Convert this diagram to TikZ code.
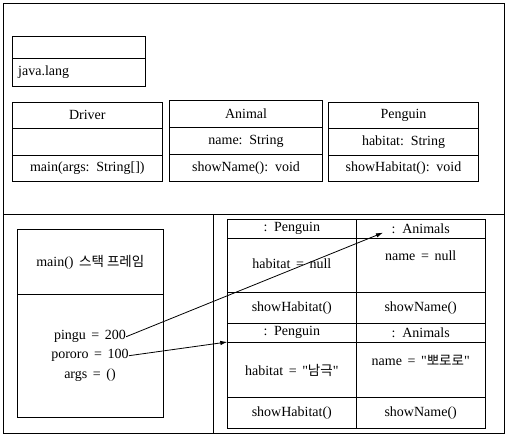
\documentclass[tikz,border=0pt]{standalone}
\usepackage{fontspec}
\setmainfont{Liberation Serif}[Ligatures=TeXOff, WordSpace=1.6]
\newfontfamily\kr{Noto Sans CJK KR}
\usetikzlibrary{arrows.meta}
\tikzset{
  box/.style={draw, line width=0.9pt, anchor=north west, inner sep=0pt, outer sep=0pt},
  lbl/.style={inner sep=0pt, font=\fontsize{14}{16}\selectfont},
  ptr/.style={line width=0.8pt, -{Latex[length=7pt,width=4.5pt]}},
  rule/.style={line width=0.9pt}
}
\newcommand{\krt}[1]{{\kr\fontsize{13.5}{16}\selectfont #1}}
\begin{document}
\begin{tikzpicture}[x=1pt,y=-1pt]
\useasboundingbox (0,0) rectangle (511,441);
% outer frame
\node[box, minimum width=500.7pt, minimum height=429.7pt] (outer) at (3.3,3.3) {};
\draw[rule] (3.3,214) -- (504,214);
\draw[rule] (213,214) -- (213,433);
% java.lang package
\node[box, minimum width=133pt, minimum height=50.3pt] (pkg) at (12.3,36) {};
\draw[rule] (12.3,58.7) -- (145.3,58.7);
\node[lbl, anchor=west] (pkgname) at (18,72) {java.lang};
% Driver class
\node[box, minimum width=150pt, minimum height=79pt] (drv) at (12.3,102.3) {};
\draw[rule] (12.3,128.3) -- (162.3,128.3);
\draw[rule] (12.3,155.3) -- (162.3,155.3);
\node[lbl] (drvname) at (87.3,115.3) {Driver};
\node[lbl] (drvop) at (87.3,168) {main(args: String[])};
% Animal class
\node[box, minimum width=152.6pt, minimum height=81pt] (ani) at (169.7,100.3) {};
\draw[rule] (169.7,127.3) -- (322.3,127.3);
\draw[rule] (169.7,154.7) -- (322.3,154.7);
\node[lbl] (aniname) at (246,113.8) {Animal};
\node[lbl] (aniattr) at (246,141) {name: String};
\node[lbl] (aniop) at (246,168) {showName(): void};
% Penguin class
\node[box, minimum width=149.6pt, minimum height=79pt] (pen) at (328.7,102.3) {};
\draw[rule] (328.7,128.3) -- (478.3,128.3);
\draw[rule] (328.7,155.3) -- (478.3,155.3);
\node[lbl] (penname) at (403.5,115.3) {Penguin};
\node[lbl] (penattr) at (403.5,141.8) {habitat: String};
\node[lbl] (penop) at (403.5,168) {showHabitat(): void};
% stack frame
\node[box, minimum width=146pt, minimum height=188pt] (stk) at (17.3,229.3) {};
\draw[rule] (17.3,294.3) -- (163.3,294.3);
\node[lbl] (stkname) at (90.3,262.7) {main() \krt{스택 프레임}};
\node[lbl] (pingu) at (90,336.7) {pingu = 200};
\node[lbl] (pororo) at (90,355.7) {pororo = 100};
\node[lbl] (args) at (90,375) {args = ()};
% heap objects: first (pingu)
\node[box, minimum width=129pt, minimum height=19pt] (h1pa) at (227.3,219.3) {};
\node[box, minimum width=128.7pt, minimum height=19pt] (h1aa) at (356.3,219.3) {};
\node[box, minimum width=129pt, minimum height=54pt] (h1pb) at (227.3,238.3) {};
\node[box, minimum width=128.7pt, minimum height=54pt] (h1ab) at (356.3,238.3) {};
\node[box, minimum width=129pt, minimum height=30.7pt] (h1pc) at (227.3,292.3) {};
\node[box, minimum width=128.7pt, minimum height=30.7pt] (h1ac) at (356.3,292.3) {};
% second (pororo)
\node[box, minimum width=129pt, minimum height=19pt] (h2pa) at (227.3,323) {};
\node[box, minimum width=128.7pt, minimum height=19pt] (h2aa) at (356.3,323) {};
\node[box, minimum width=129pt, minimum height=55.3pt] (h2pb) at (227.3,342) {};
\node[box, minimum width=128.7pt, minimum height=55.3pt] (h2ab) at (356.3,342) {};
\node[box, minimum width=129pt, minimum height=31pt] (h2pc) at (227.3,397.3) {};
\node[box, minimum width=128.7pt, minimum height=31pt] (h2ac) at (356.3,397.3) {};
% heap texts
\node[lbl] (t1pa) at (291.8,228.8) {: Penguin};
\node[lbl] (t1aa) at (420.7,228.8) {: Animals};
\node[lbl] (t1pb) at (291.8,264) {habitat = null};
\node[lbl] (t1ab) at (420.7,255.7) {name = null};
\node[lbl] (t1pc) at (291.8,307.7) {showHabitat()};
\node[lbl] (t1ac) at (420.7,307.7) {showName()};
\node[lbl] (t2pa) at (291.8,332.5) {: Penguin};
\node[lbl] (t2aa) at (420.7,332.5) {: Animals};
\node[lbl] (t2pb) at (291.8,370) {habitat = "\krt{남극}"};
\node[lbl] (t2ab) at (420.7,360) {name = "\krt{뽀로로}"};
\node[lbl] (t2pc) at (291.8,412.8) {showHabitat()};
\node[lbl] (t2ac) at (420.7,412.8) {showName()};
% references
\coordinate (tgt1) at (383,232.7);
\draw[ptr] (pingu.east) -- (tgt1);
\draw[ptr] (pororo.east) -- (h2pb.north west);
\end{tikzpicture}
\end{document}
